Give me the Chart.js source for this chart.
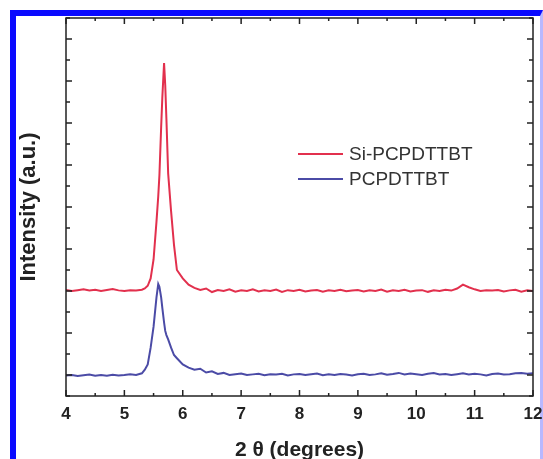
<!DOCTYPE html>
<html lang="en">
<head>
  <meta charset="UTF-8">
  <title>XRD - Si-PCPDTTBT vs PCPDTTBT</title>
  <style>
    body {
      margin: 0;
      background: #fff;
      overflow: hidden;
    }
    /* blue frame of the figure */
    .frame {
      position: absolute;
      left: 10px;
      top: 10px;
      width: 524px;
      height: 460px;
      border-left: 6px solid #0a0aff;
      border-top: 6px solid #0a0aff;
      border-right: 3px solid #b8b8ff;
    }
    #xrd {
      position: absolute;
      left: 0;
      top: 0;
    }
  </style>
  <script src="https://cdn.jsdelivr.net/npm/chart.js"></script>
</head>
<body>
  <div class="frame"></div>
  <canvas id="xrd" width="543" height="459"></canvas>

  <script>
    // 2 theta (degrees), shared by both scans
    const twoTheta = [
      4.0, 4.1, 4.2, 4.3, 4.4, 4.5, 4.6, 4.7, 4.8, 4.9, 5.0, 5.1, 5.2, 5.3,
      5.35, 5.4, 5.45, 5.5, 5.55, 5.58, 5.6, 5.63, 5.65, 5.68, 5.7, 5.72, 5.75, 5.8, 5.85, 5.9,
      6.0, 6.1, 6.2, 6.3, 6.4, 6.5, 6.6, 6.7, 6.8, 6.9,
      7.0, 7.1, 7.2, 7.3, 7.4, 7.5, 7.6, 7.7, 7.8, 7.9,
      8.0, 8.1, 8.2, 8.3, 8.4, 8.5, 8.6, 8.7, 8.8, 8.9,
      9.0, 9.1, 9.2, 9.3, 9.4, 9.5, 9.6, 9.7, 9.8, 9.9,
      10.0, 10.1, 10.2, 10.3, 10.4, 10.5, 10.6, 10.7, 10.8, 10.9,
      11.0, 11.1, 11.2, 11.3, 11.4, 11.5, 11.6, 11.7, 11.8, 11.9, 12.0
    ];

    // intensities (a.u., offset stacked)
    const siPcpdttbt = [
      5.05, 5.0, 5.04, 5.08, 5.02, 5.06, 5.0, 5.05, 5.09, 5.03, 5.0, 5.04, 5.02, 5.06,
      5.12, 5.25, 5.6, 6.5, 8.3, 9.5, 10.5, 12.8, 14.2, 15.86, 14.8, 13.2, 10.6, 8.8, 7.2, 6.0,
      5.6, 5.3, 5.15, 5.05, 5.12, 4.95, 5.05, 5.0, 5.08, 4.97,
      5.04, 5.0, 5.08, 4.98, 5.03, 5.0, 5.07, 4.96, 5.04, 5.0,
      5.06, 4.98, 5.02, 5.05, 4.97, 5.03, 5.0, 5.06, 4.99, 5.02,
      5.05, 4.98, 5.04, 5.0, 5.07, 4.97, 5.03, 5.0, 5.06, 4.98,
      5.02, 5.04, 4.96, 5.03, 5.0, 5.06, 5.02, 5.12, 5.3, 5.18,
      5.08, 5.0, 5.04, 5.02, 5.05, 4.98, 5.03, 5.06, 4.97, 5.04, 5.0
    ];

    const pcpdttbt = [
      0.98, 1.0, 0.95, 0.99, 1.02, 0.96, 1.0, 0.97, 1.01, 0.98, 1.0, 1.03, 1.0, 1.08,
      1.25, 1.5, 2.3, 3.3, 4.7, 5.33, 5.2, 4.7, 4.2, 3.5, 3.1, 2.9, 2.7, 2.3, 1.95, 1.8,
      1.5, 1.35, 1.25, 1.3, 1.12, 1.18, 1.05, 1.1, 1.0, 1.04,
      1.07, 1.0, 1.03, 1.06, 0.99, 1.04, 1.02, 1.06, 0.98, 1.03,
      1.05, 1.0, 1.04, 1.07, 0.99, 1.03, 1.0, 1.05, 1.02, 0.98,
      1.04, 1.06, 1.0, 1.03, 1.08, 1.01, 1.05, 1.1, 1.03, 1.07,
      1.04, 1.0, 1.06, 1.09, 1.02, 1.05, 1.0, 1.04, 1.08, 1.02,
      1.06, 1.03, 0.98, 1.05, 1.07, 1.02, 1.04, 1.08, 1.1, 1.06, 1.08
    ];

    const xTicks = [4, 5, 6, 7, 8, 9, 10, 11, 12];

    const toPoints = ys => twoTheta.map((t, i) => ({ x: t, y: ys[i] }));

    // box, inward ticks and the legend inside the plot
    const frameAndLegend = {
      id: 'frameAndLegend',
      afterDatasetsDraw(chart) {
        const { ctx, chartArea: a, scales: { x, y } } = chart;
        ctx.save();
        ctx.strokeStyle = '#222';
        ctx.lineWidth = 1.5;
        ctx.strokeRect(a.left, a.top, a.right - a.left, a.bottom - a.top);

        ctx.beginPath();
        for (let v = 4; v <= 12; v += 0.5) {
          const px = x.getPixelForValue(v);
          const len = v % 1 === 0 ? 6 : 3;
          ctx.moveTo(px, a.bottom); ctx.lineTo(px, a.bottom - len);
          ctx.moveTo(px, a.top); ctx.lineTo(px, a.top + len);
        }
        for (let v = 0; v <= 18; v++) {
          const py = y.getPixelForValue(v);
          const len = v % 2 === 1 ? 6 : 4;
          ctx.moveTo(a.left, py); ctx.lineTo(a.left + len, py);
          ctx.moveTo(a.right, py); ctx.lineTo(a.right - len, py);
        }
        ctx.stroke();

        // legend
        ctx.font = '19px "Liberation Sans", Arial, sans-serif';
        ctx.textBaseline = 'middle';
        chart.data.datasets.forEach((ds, i) => {
          const ly = 154 + i * 25;
          ctx.strokeStyle = ds.borderColor;
          ctx.lineWidth = 2;
          ctx.beginPath();
          ctx.moveTo(298, ly);
          ctx.lineTo(343, ly);
          ctx.stroke();
          ctx.fillStyle = '#333';
          ctx.fillText(ds.label, 349, ly + 1);
        });
        ctx.restore();
      }
    };

    const ctx = document.getElementById('xrd').getContext('2d');

    new Chart(ctx, {
      type: 'line',
      data: {
        datasets: [
          {
            label: 'Si-PCPDTTBT',
            data: toPoints(siPcpdttbt),
            borderColor: '#e2304d',
            borderWidth: 2,
            pointRadius: 0,
            tension: 0
          },
          {
            label: 'PCPDTTBT',
            data: toPoints(pcpdttbt),
            borderColor: '#4b4ba6',
            borderWidth: 2,
            pointRadius: 0,
            tension: 0
          }
        ]
      },
      options: {
        responsive: false,
        animation: false,
        layout: { padding: { top: 18, right: 10, left: 0, bottom: 0 } },
        plugins: {
          legend: { display: false },
          tooltip: { enabled: false }
        },
        scales: {
          x: {
            type: 'linear',
            min: 4,
            max: 12,
            afterBuildTicks: scale => { scale.ticks = xTicks.map(v => ({ value: v })); },
            afterFit: scale => {
              scale.height = 63;
              scale.paddingLeft = 0;
              scale.paddingRight = 0;
            },
            grid: { display: false, drawTicks: false },
            border: { display: false },
            ticks: {
              padding: 8,
              color: '#222',
              font: { family: '"Liberation Sans", Arial, sans-serif', size: 17, weight: 'bold' }
            },
            title: {
              display: true,
              text: '2 θ (degrees)',
              color: '#222',
              padding: { top: 0, bottom: -4 },
              font: { family: '"Liberation Sans", Arial, sans-serif', size: 21, weight: 'bold' }
            }
          },
          y: {
            min: 0,
            max: 18,
            afterFit: scale => { scale.width = 66; },
            grid: { display: false, drawTicks: false },
            border: { display: false },
            ticks: { display: false },
            title: {
              display: true,
              text: 'Intensity (a.u.)',
              color: '#222',
              padding: { top: 16, bottom: 0 },
              font: { family: '"Liberation Sans", Arial, sans-serif', size: 22, weight: 'bold' }
            }
          }
        }
      },
      plugins: [frameAndLegend]
    });
  </script>
</body>
</html>
